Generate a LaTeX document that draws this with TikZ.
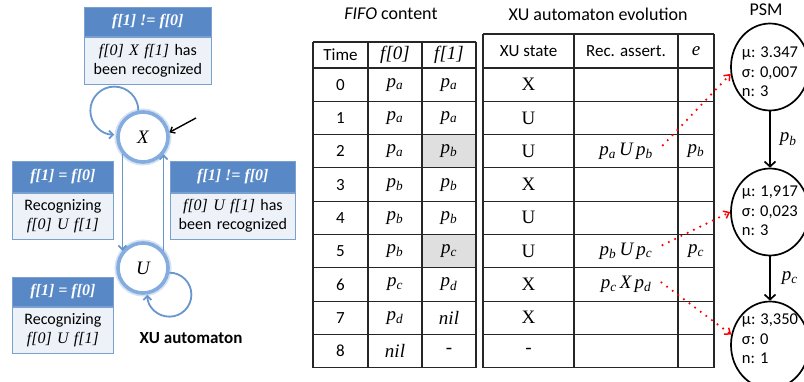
\documentclass[tikz,border=0pt]{standalone}
\usepackage{fontspec}
\setmainfont{Carlito}
\newfontfamily\tms{Liberation Serif}
\usetikzlibrary{arrows.meta,shapes.geometric}

\definecolor{hdrblue}{RGB}{88,137,198}
\definecolor{bodyfill}{RGB}{237,241,248}
\definecolor{boxedge}{RGB}{122,160,210}
\definecolor{linkblue}{RGB}{104,150,206}
\definecolor{ringblue}{RGB}{132,172,222}
\definecolor{cellgray}{RGB}{223,223,223}

\newcommand\pv[1]{{\tms\itshape p\textsubscript{#1}}}
\newcommand\hdrfont{\tms\bfseries\itshape\fontsize{16}{19}\selectfont}
\newcommand\bodyfont{\fontsize{16}{19}\selectfont}
\newcommand\cellfont{\fontsize{17}{20}\selectfont}
\newcommand\serfont{\tms\fontsize{19}{21}\selectfont}
\newcommand\titlefont{\fontsize{18}{21}\selectfont}
\newcommand\psmfont{\fontsize{16.5}{19.5}\selectfont}

\begin{document}
\begin{tikzpicture}[x=1pt,y=-1pt,
  hdr/.style={draw=boxedge, fill=hdrblue, line width=0.8pt, text=white,
    font=\hdrfont, inner sep=0pt},
  bodybox/.style={draw=boxedge, fill=bodyfill, line width=0.8pt,
    align=center, font=\bodyfont, inner sep=0pt},
  state/.style={circle, draw=ringblue, line width=3.6pt, fill=white,
    minimum size=50pt, inner sep=0pt, font=\tms\itshape\fontsize{19}{21}\selectfont,
    preaction={draw=ringblue!35, line width=7pt}},
  link/.style={draw=linkblue, line width=1.8pt,
    -{Straight Barb[length=4pt,width=8pt]}},
  tline/.style={draw=black!85, line width=1.1pt},
  cell/.style={font=\cellfont, inner sep=1pt},
  scell/.style={font=\serfont, inner sep=1pt},
  redarrow/.style={draw=red, line width=2.4pt, dash pattern=on 0pt off 7pt,
    line cap=round, -{Straight Barb[length=5pt,width=8pt,line width=1.5pt]}},
  psm/.style={ellipse, draw=black, line width=1.7pt, fill=white,
    minimum width=78pt, minimum height=87pt, inner sep=0pt},
  psmtext/.style={align=left, font=\psmfont, inner sep=0pt},
  psmarrow/.style={draw=black, line width=1.7pt,
    -{Straight Barb[length=5pt,width=11pt]}}
]
\clip (0,0) rectangle (804,381);
\fill[white] (0,0) rectangle (804,381);

% ---------- XU automaton ----------
\node[hdr, anchor=north west, minimum width=127pt, minimum height=29pt] (topH) at (84,7) {f[1] != f[0]};
\node[bodybox, anchor=north, text width=127pt, minimum height=47pt] (topB) at (topH.south)
  {{\tms\itshape f[0] X f[1]} has\\been recognized};

\node[hdr, anchor=north west, minimum width=101pt, minimum height=31pt] (leftH) at (12,161) {f[1] = f[0]};
\node[bodybox, anchor=north, text width=101pt, minimum height=46pt] (leftB) at (leftH.south)
  {Recognizing\\{\tms\itshape f[0] U f[1]}};

\node[hdr, anchor=north west, minimum width=125pt, minimum height=31pt] (rightH) at (170,161) {f[1] != f[0]};
\node[bodybox, anchor=north, text width=125pt, minimum height=46pt] (rightB) at (rightH.south)
  {{\tms\itshape f[0] U f[1]} has\\been recognized};

\node[hdr, anchor=north west, minimum width=101pt, minimum height=29pt] (botH) at (12,277) {f[1] = f[0]};
\node[bodybox, anchor=north, text width=101pt, minimum height=46pt] (botB) at (botH.south)
  {Recognizing\\{\tms\itshape f[0] U f[1]}};

\node[state] (X) at (143,137) {X};
\node[state] (U) at (143,268) {U};

\draw[link] (X.100) arc[start angle=0, end angle=-270, radius=24];
\draw[link] (U.-10) arc[start angle=-90, end angle=180, radius=22];
\draw[link] (X.220) -- (U.140);
\draw[link] (U.40) -- (X.320);

\coordinate (init) at (196,118);
\draw[black, line width=1.4pt, -{Straight Barb[length=4pt,width=7pt]}] (init) -- (X.10);

\node[font=\bfseries\fontsize{17}{20}\selectfont] (autlbl) at (191,338) {XU automaton};

% ---------- FIFO content ----------
\node[font=\titlefont] (tFifo) at (391,14) {{\itshape FIFO} content};
\fill[cellgray] (422,{68+33.3*2}) rectangle (476,{68+33.3*3});
\fill[cellgray] (422,{68+33.3*5}) rectangle (476,{68+33.3*6});
\foreach \xx in {313,368,422,476} \draw[tline] (\xx,42) -- (\xx,{68+33.3*9});
\draw[tline] (313,42) -- (476,42);
\foreach \k in {0,...,9} \draw[tline] (313,{68+33.3*\k}) -- (476,{68+33.3*\k});

\node[cell] (hTime) at (340.5,55) {Time};
\node[scell, font=\serfont\itshape] (hF0) at (395,55) {f[0]};
\node[scell, font=\serfont\itshape] (hF1) at (449,55) {f[1]};

\foreach \k/\a/\b in {0/{\pv{a}}/{\pv{a}}, 1/{\pv{a}}/{\pv{a}}, 2/{\pv{a}}/{\pv{b}},
    3/{\pv{b}}/{\pv{b}}, 4/{\pv{b}}/{\pv{b}}, 5/{\pv{b}}/{\pv{c}},
    6/{\pv{c}}/{\pv{d}}, 7/{\pv{d}}/{\textit{nil}}, 8/{\textit{nil}}/{-}} {
  \node[cell] (time\k) at (340.5,{68+33.3*(\k+0.5)}) {\k};
  \node[scell] (fa\k) at (395,{68+33.3*(\k+0.5)}) {\a};
  \node[scell] (fb\k) at (449,{68+33.3*(\k+0.5)}) {\b};
}

% ---------- XU automaton evolution ----------
\node[font=\titlefont] (tXU) at (598,14) {XU automaton evolution};
\foreach \xx in {483,574,678,714} \draw[tline] (\xx,34) -- (\xx,{68+33.3*9});
\draw[tline] (483,34) -- (714,34);
\foreach \k in {0,...,9} \draw[tline] (483,{68+33.3*\k}) -- (714,{68+33.3*\k});

\node[cell] (hState) at (528.5,51) {XU state};
\node[cell] (hRec) at (626,51) {Rec. assert.};
\node[scell, font=\serfont\itshape] (hE) at (696,51) {e};

\foreach \k/\s in {0/X,1/U,2/U,3/X,4/U,5/U,6/X,7/X,8/-}
  \node[scell] (st\k) at (528.5,{68+33.3*(\k+0.5)}) {\s};

\node[scell] (ra2) at (626,{68+33.3*2.5}) {{\itshape p\textsubscript{a}\,U\,p\textsubscript{b}}};
\node[scell] (ra5) at (626,{68+33.3*5.5}) {{\itshape p\textsubscript{b}\,U\,p\textsubscript{c}}};
\node[scell] (ra6) at (626,{68+33.3*6.5}) {{\itshape p\textsubscript{c}\,X\,p\textsubscript{d}}};
\node[scell] (e2) at (696,{68+33.3*2.5}) {\pv{b}};
\node[scell] (e5) at (696,{68+33.3*5.5}) {\pv{c}};

% ---------- PSM ----------
\node[font=\titlefont] (tPSM) at (766,10) {PSM};
\node[psm] (s1) at (770,67) {};
\node[psm] (s2) at (770,212) {};
\node[psm] (s3) at (770,345) {};
\node[psmtext] (s1t) at (770,72) {μ: 3.347\\σ: 0,007\\n: 3};
\node[psmtext] (s2t) at (770,211) {μ: 1,917\\σ: 0,023\\n: 3};
\node[psmtext] (s3t) at (770,339) {μ: 3,350\\σ: 0\\n: 1};

\draw[psmarrow] (s1) -- (s2) node[midway, right=8pt, scell] (lb) {\pv{b}};
\draw[psmarrow] (s2) -- (s3) node[midway, right=10pt, scell] (lc) {\pv{c}};

\draw[redarrow] ([xshift=9pt,yshift=6pt]ra2.east) -- (s1.190);
\draw[redarrow] ([xshift=9pt,yshift=6pt]ra5.east) -- (s2.180);
\draw[redarrow] ([xshift=9pt,yshift=2pt]ra6.east) -- (s3.165);
\end{tikzpicture}
\end{document}
